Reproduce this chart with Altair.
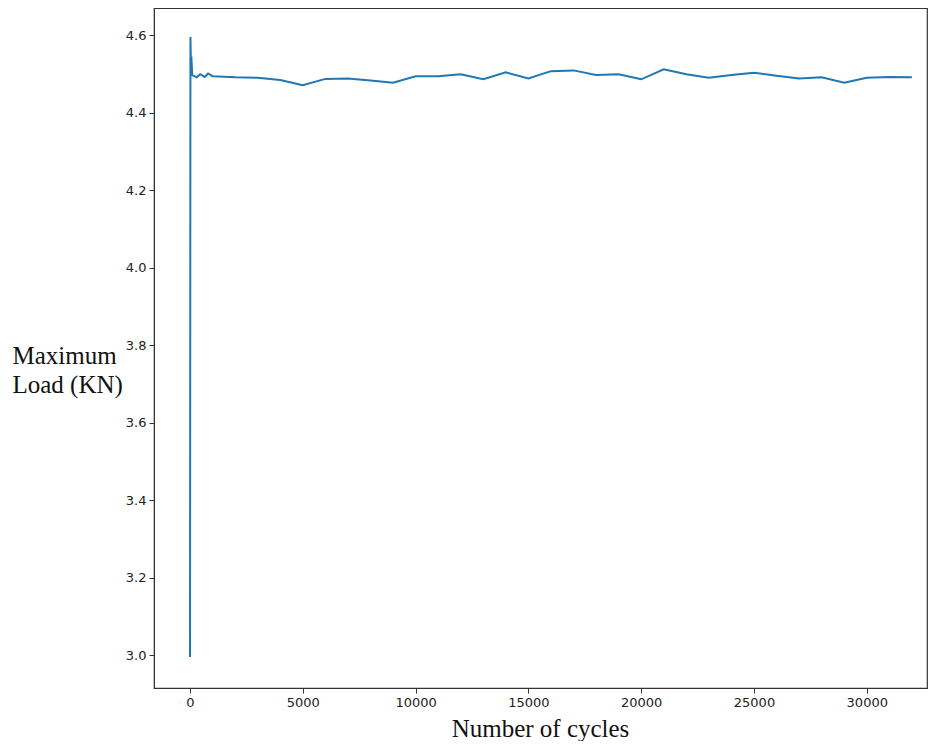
import altair as alt
import pandas as pd

cycles = [0, 20, 40, 60, 100, 300, 450, 650, 800, 1000,
          2000, 3000, 4000, 5000, 6000, 7000, 8000, 9000, 10000,
          11000, 12000, 13000, 14000, 15000, 16000, 17000, 18000, 19000, 20000,
          21000, 22000, 23000, 24000, 25000, 26000, 27000, 28000, 29000, 30000,
          31000, 32000]
loads = [2.995, 4.595, 4.525, 4.545, 4.497, 4.491, 4.499, 4.492, 4.501, 4.494,
         4.491, 4.490, 4.484, 4.471, 4.487, 4.488, 4.483, 4.477, 4.494,
         4.494, 4.499, 4.486, 4.504, 4.488, 4.507, 4.509, 4.497, 4.499, 4.486,
         4.512, 4.499, 4.490, 4.497, 4.503, 4.495, 4.488, 4.491, 4.477, 4.490,
         4.492, 4.491]

x_ticks = [0, 5000, 10000, 15000, 20000, 25000, 30000]
y_ticks = [3.0, 3.2, 3.4, 3.6, 3.8, 4.0, 4.2, 4.4, 4.6]

df = pd.DataFrame({"cycles": cycles, "load": loads, "idx": list(range(len(cycles)))})

chart = alt.Chart(df).mark_line(color="#1f77b4", strokeWidth=2).encode(
    x=alt.X("cycles:Q",
            scale=alt.Scale(domain=[-1596, 32670], nice=False, zero=False),
            axis=alt.Axis(values=x_ticks, format="d", title="Number of cycles",
                          titleX=386, titleY=48, titleAlign="center",
                          titleBaseline="alphabetic")),
    y=alt.Y("load:Q",
            scale=alt.Scale(domain=[2.915, 4.670], nice=False, zero=False),
            axis=alt.Axis(values=y_ticks, format=".1f",
                          title=["Maximum", "Load (KN)"],
                          titleAngle=0, titleAlign="left",
                          titleBaseline="alphabetic",
                          titleX=-142, titleY=355, titleLineHeight=29)),
    order=alt.Order("idx:Q"),
).properties(
    width=773, height=680,
    autosize=alt.AutoSizeParams(type="none"),
    padding={"left": 146, "top": 0, "right": 1, "bottom": 53},
).configure_view(
    stroke="#333", strokeWidth=1.2
).configure_axis(
    grid=False,
    domainColor="#333",
    tickColor="#333",
    tickSize=5,
    labelFont="DejaVu Sans",
    labelFontSize=13,
    labelColor="#222",
    labelPadding=3,
    titleFont="Liberation Serif",
    titleFontSize=25,
    titleFontWeight="normal",
    titleColor="#111",
)

chart.save("out.html", embed_options={"renderer": "svg", "actions": False})
